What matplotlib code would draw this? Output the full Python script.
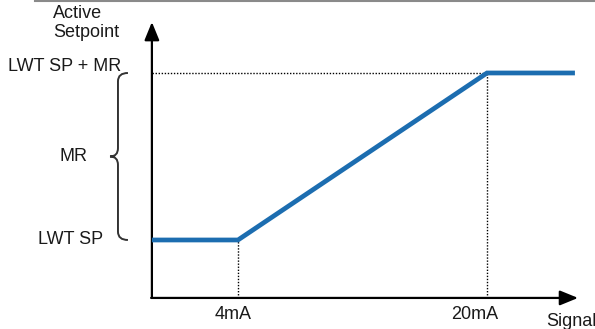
import matplotlib
matplotlib.use('Agg')
import matplotlib.pyplot as plt
from matplotlib.path import Path
from matplotlib.patches import PathPatch

# Data: signal in mA, setpoint normalised (0 = LWT SP, 1 = LWT SP + MR)
signal_ma = [-1.53, 4, 20, 25.65]
setpoint = [0, 0, 1, 1]
tick_ma = [4, 20]
tick_labels = ['4mA', '20mA']
level_values = [0, 1]
level_labels = ['LWT SP', 'LWT SP + MR']

BLUE = '#1c6db0'
TEXT = '#1a1a1a'

plt.rcParams['font.family'] = ['Liberation Sans', 'DejaVu Sans']

fig = plt.figure(figsize=(5.95, 3.29), dpi=100)
ax = fig.add_axes([0, 0, 1, 1])
ax.set_xlim(-11.29, 26.94)
ax.set_ylim(-0.533, 1.437)
ax.axis('off')

# axis origin and arrow tips
x0, y0 = -1.53, -0.347
x_tip, y_tip = 25.85, 1.305

# dotted guide lines
dot = dict(color='black', lw=1.0, ls=(0, (1, 1.2)))
ax.plot([x0, tick_ma[1]], [level_values[1]] * 2, **dot)
for xm, lv in zip(tick_ma, level_values):
    ax.plot([xm, xm], [y0, lv], **dot)

# axes with arrows
arr = dict(arrowstyle='-|>,head_length=1.1,head_width=0.45', lw=1.6,
           color='black', mutation_scale=10, shrinkA=0, shrinkB=0)
ax.annotate('', xy=(x0, y_tip), xytext=(x0, y0), arrowprops=arr)
ax.annotate('', xy=(x_tip, y0), xytext=(x0 - 0.05, y0), arrowprops=arr)

# setpoint curve
ax.plot(signal_ma, setpoint, color=BLUE, lw=3.4,
        solid_capstyle='butt', solid_joinstyle='miter', zorder=5)

# curly brace spanning MR
xm, xr, xt, r = -3.71, -3.07, -4.22, 0.05
lo, hi = level_values
mid = (lo + hi) / 2
verts = [(xr, hi), (xm, hi), (xm, hi - r),
         (xm, mid + r), (xm, mid), (xt, mid),
         (xm, mid), (xm, mid - r),
         (xm, lo + r), (xm, lo), (xr, lo)]
codes = [Path.MOVETO, Path.CURVE3, Path.CURVE3,
         Path.LINETO, Path.CURVE3, Path.CURVE3,
         Path.CURVE3, Path.CURVE3,
         Path.LINETO, Path.CURVE3, Path.CURVE3]
ax.add_patch(PathPatch(Path(verts, codes), fill=False, ec='#333333', lw=1.4))

fs = 13
# level labels
ax.annotate(level_labels[0], xy=(x0, level_values[0]), xytext=(-49, 0),
            textcoords='offset pixels', ha='right', va='center',
            fontsize=fs, color=TEXT)
ax.annotate(level_labels[1], xy=(x0, level_values[1]), xytext=(-31, 6),
            textcoords='offset pixels', ha='right', va='center',
            fontsize=fs, color=TEXT)
ax.annotate('MR', xy=(x0, mid), xytext=(-78, 0), textcoords='offset pixels',
            ha='center', va='center', fontsize=fs, color=TEXT)

# tick labels
for xm_, lab, dx in zip(tick_ma, tick_labels, [-5, -12]):
    ax.annotate(lab, xy=(xm_, y0), xytext=(dx, -17), textcoords='offset pixels',
                ha='center', va='center', fontsize=fs, color=TEXT)

# axis titles
ax.annotate('Active\nSetpoint', xy=(x0, y_tip), xytext=(-99, -1),
            textcoords='offset pixels', ha='left', va='center',
            fontsize=fs, color=TEXT, linespacing=1.1)
ax.annotate('Signal', xy=(x_tip, y0), xytext=(-7, -24),
            textcoords='offset pixels', ha='center', va='center',
            fontsize=fs, color=TEXT)

# frame remnant along the top edge
ax.plot([35 / 595, 1], [0.997, 0.997], transform=ax.transAxes,
        color='#8a8a8a', lw=1.5)

fig.savefig('out.png', dpi=100, facecolor='white')
